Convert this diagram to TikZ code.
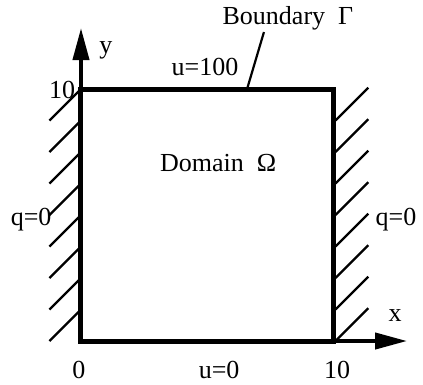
\documentclass[tikz,border=0pt]{standalone}
\usepackage{fontspec}
\setmainfont{Liberation Serif}
\usetikzlibrary{arrows.meta}
\definecolor{ink}{HTML}{000000}

\begin{document}
\begin{tikzpicture}[
  x=0.4428cm, y=0.4428cm,
  >={Triangle[length=16pt, width=8pt]},
  wall/.style={draw=ink, line width=2.5pt, line join=miter},
  axisline/.style={draw=ink, line width=2pt, ->},
  hatch/.style={draw=ink, line width=1.2pt},
  leader/.style={draw=ink, line width=1.1pt},
  lbl/.style={font=\fontsize{13}{15}\selectfont, text=ink, inner sep=0pt},
]

% Frame
\useasboundingbox (-3.214,-1.706) rectangle (13.571,13.532);

% === Axes ===
\coordinate (O) at (0,0);
\coordinate (xtip) at (12.94,0);
\coordinate (ytip) at (0,12.42);
\draw[axisline] (O) -- (xtip);
\draw[axisline] (O) -- (ytip);

% === Domain square ===
\draw[wall] (0,0) rectangle (10,10);

% === Hatching on the insulated sides ===
\foreach \k in {0,...,7} {
  \draw[hatch] (0,10-1.25*\k) -- ++(-1.25,-1.25);
  \draw[hatch] (10.1,8.75-1.25*\k) -- ++(1.3,1.3);
}

% === Boundary leader ===
\coordinate (gfoot) at (6.59,10);
\coordinate (ghead) at (7.26,12.26);
\draw[leader] (gfoot) -- (ghead);

% === Labels ===
\node[lbl] (bnd) at (8.21,12.82) {Boundary\enspace Γ};
\node[lbl] (utop) at (4.92,10.87) {u=100};
\node[lbl] (ylbl) at (0.99,11.55) {y};
\node[lbl] (ymax) at (-0.75,9.96) {10};
\node[lbl] (dom) at (5.44,7.06) {Domain\enspace Ω};
\node[lbl] (qleft) at (-1.98,4.80) {q=0};
\node[lbl] (qright) at (12.5,4.80) {q=0};
\node[lbl] (xlbl) at (12.46,1.03) {x};
\node[lbl] (orig) at (-0.08,-1.15) {0};
\node[lbl] (ubot) at (5.48,-1.15) {u=0};
\node[lbl] (xmax) at (10.16,-1.15) {10};

\end{tikzpicture}
\end{document}
